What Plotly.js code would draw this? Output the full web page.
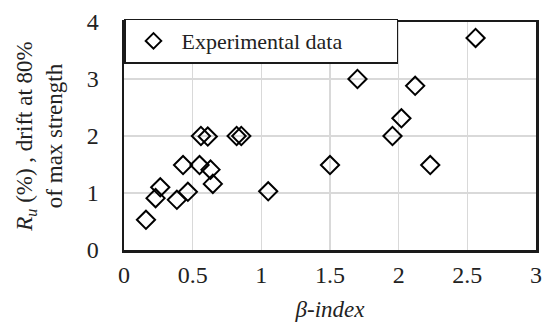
<!DOCTYPE html>
<html>
<head>
<meta charset="utf-8">
<script src="https://cdn.plot.ly/plotly-3.0.1.min.js"></script>
<style>
html,body{margin:0;padding:0;background:#fff;}
#chart{width:542px;height:326px;}
</style>
</head>
<body>
<div id="chart"></div>
<script>
const seriesName = "Experimental data";
const betaIndex = [2.56, 1.70, 2.12, 2.02, 1.955, 2.23, 1.50, 1.05, 0.56, 0.61, 0.82, 0.854, 0.43, 0.55, 0.63, 0.647, 0.465, 0.385, 0.264, 0.23, 0.16];
const driftRu   = [3.72, 3.00, 2.88, 2.31, 2.00, 1.49, 1.49, 1.03, 2.00, 1.99, 2.00, 2.00, 1.49, 1.49, 1.41, 1.16, 1.02, 0.88, 1.10, 0.91, 0.53];
const xTickVals = [0, 0.5, 1, 1.5, 2, 2.5, 3];
const xTickText = ["0", "0.5", "1", "1.5", "2", "2.5", "3"];
const yTickVals = [0, 1, 2, 3, 4];
const yTickText = ["0", "1", "2", "3", "4"];

const serifFont = "Times New Roman";

const trace = {
  x: betaIndex, y: driftRu, type: "scatter", mode: "markers", name: seriesName,
  marker: {symbol: "diamond-open", size: 14, color: "#000", line: {width: 2, color: "#1a1a1a"}},
  showlegend: true
};

const layout = {
  width: 542, height: 326,
  margin: {l: 124, r: 6, t: 22, b: 76},
  paper_bgcolor: "#fff", plot_bgcolor: "#fff",
  font: {family: serifFont, size: 22, color: "#222"},
  xaxis: {
    range: [0, 3], tickvals: xTickVals, ticktext: xTickText,
    showgrid: true, gridcolor: "#d9d9d9", gridwidth: 1.5,
    zeroline: false, showline: true, linecolor: "#1a1a1a", linewidth: 2.5, mirror: true,
    ticks: "outside", ticklen: 2, tickcolor: "rgba(0,0,0,0)",
    tickfont: {family: serifFont, size: 24, color: "#222"},
    title: {text: "<i>β-index</i>", font: {family: serifFont, size: 23, color: "#222"}, standoff: 14}
  },
  yaxis: {
    range: [0, 4], tickvals: yTickVals, ticktext: yTickText,
    showgrid: true, gridcolor: "#d9d9d9", gridwidth: 1.5,
    zeroline: false, showline: true, linecolor: "#1a1a1a", linewidth: 2.5, mirror: true,
    ticks: "outside", ticklen: 18, tickcolor: "rgba(0,0,0,0)",
    tickfont: {family: serifFont, size: 24, color: "#222"},
    title: {text: "<i>R</i><sub><i>u</i></sub> (%) , drift at 80%<br>of max strength", font: {family: serifFont, size: 23, color: "#222"}, standoff: 18}
  },
  legend: {
    x: 0, y: 1.015, xanchor: "left", yanchor: "top",
    orientation: "h", entrywidth: 210, entrywidthmode: "pixels",
    itemwidth: 46, itemsizing: "constant",
    bgcolor: "#fff", bordercolor: "#1a1a1a", borderwidth: 1.5,
    font: {family: serifFont, size: 22, color: "#222"}
  }
};

Plotly.newPlot("chart", [trace], layout, {displayModeBar: false, staticPlot: true});
</script>
</body>
</html>
